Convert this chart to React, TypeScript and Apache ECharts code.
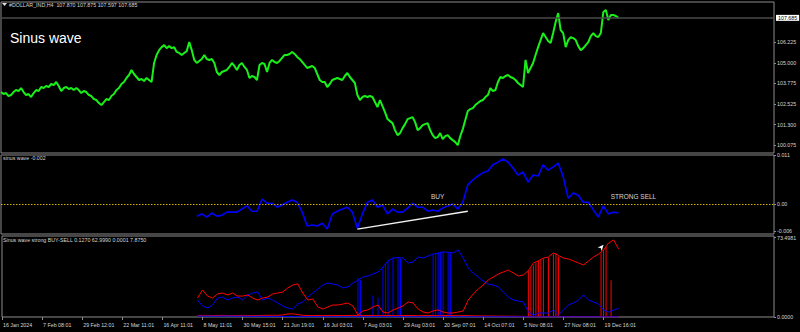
import React, { useEffect, useRef } from 'react';
import * as echarts from 'echarts';

// ---- data ----
const SLOTS = 155; // coarse time slots across the window (8 per date label)
const FINE = 2; // fine slots per coarse slot (price and spikes)
const dateLabels = [
  '16 Jan 2024', '7 Feb 08:01', '29 Feb 12:01', '22 Mar 11:01', '16 Apr 11:01',
  '8 May 11:01', '30 May 15:01', '21 Jun 19:01', '16 Jul 03:01', '7 Aug 03:01',
  '29 Aug 03:01', '20 Sep 07:01', '14 Oct 07:01', '5 Nov 08:01', '27 Nov 08:01',
  '19 Dec 16:01',
];
const priceTicks = [100.075, 101.3, 102.525, 103.775, 105.0, 106.225];
const sinusTicks = [-0.006, 0, 0.011];
const strengthTicks = [0, 73.4981];
const lastPrice = 107.685;

// price, one value per fine slot
const priceClose = [
  103.25, 103.13, 103.19, 103.01, 103.07, 103.25, 103.37, 103.31, 103.49, 103.25,
  103.07, 103.13, 102.95, 103.19, 103.37, 103.31, 103.55, 103.49, 103.61, 103.55,
  103.73, 103.67, 103.85, 103.61, 103.31, 103.49, 103.55, 103.43, 103.49, 103.37,
  103.49, 103.37, 103.19, 103.31, 103.25, 103.07, 103.01, 102.83, 102.77, 102.59,
  102.47, 102.65, 102.83, 102.77, 103.01, 103.13, 103.37, 103.49, 103.73, 103.85,
  104.09, 104.27, 104.57, 104.33, 104.15, 103.97, 104.03, 103.91, 104.09, 103.97,
  103.85, 104.99, 105.47, 105.76, 105.94, 106.06, 105.88, 106.0, 105.88, 105.94,
  105.65, 105.59, 105.47, 105.59, 105.7, 106.24, 105.76, 105.17, 104.99, 105.11,
  105.23, 105.47, 105.23, 105.17, 105.23, 104.99, 104.45, 104.27, 104.45, 104.51,
  104.57, 104.75, 104.99, 104.81, 104.57, 104.87, 104.99, 104.75, 104.57, 104.09,
  104.21, 104.15, 103.97, 104.87, 104.99, 104.93, 104.45, 104.99, 105.17, 105.05,
  104.99, 105.11, 105.29, 105.47, 105.47, 105.53, 105.65, 105.53, 105.35, 105.23,
  105.05, 104.87, 104.69, 104.75, 104.81, 104.69, 104.33, 103.97, 103.85, 103.85,
  103.55, 103.73, 103.97, 104.03, 104.09, 104.03, 103.97, 104.21, 104.39, 104.15,
  103.97, 103.79, 103.07, 102.77, 102.95, 103.01, 102.95, 103.01, 102.95, 102.65,
  102.35, 102.77, 102.41, 102.05, 101.63, 101.51, 101.39, 100.97, 100.67, 100.79,
  101.09, 101.33, 101.63, 101.69, 101.75, 101.45, 100.97, 101.09, 101.27, 101.33,
  101.39, 100.97, 100.67, 100.49, 100.55, 100.79, 100.43, 100.61, 100.67, 100.49,
  100.37, 100.25, 100.07, 100.61, 101.03, 101.57, 102.11, 102.23, 102.29, 102.47,
  102.59, 102.71, 102.77, 102.95, 103.07, 103.49, 103.31, 103.37, 103.85, 104.15,
  104.09, 104.21, 104.27, 104.15, 104.09, 103.97, 103.79, 103.67, 103.55, 105.17,
  104.39, 104.69, 104.99, 105.47, 105.94, 106.36, 106.78, 106.54, 106.3, 106.18,
  106.78, 107.44, 107.98, 106.96, 106.78, 105.94, 106.36, 106.54, 106.48, 106.36,
  106.0, 105.76, 105.88, 106.06, 106.24, 106.6, 106.78, 106.6, 106.54, 106.78,
  108.04, 108.16, 107.56, 107.86, 107.86, 107.8, 107.69,
];

const indicatorStart = 39; // first coarse slot of the indicator panes

const sinusWave = [
  -0.0027, -0.0022, -0.0029, -0.002, -0.0027, -0.0025, -0.0018, -0.0018, -0.0018, -0.0011,
  -0.0004, -0.0016, -0.0016, 0.0011, 0.0002, 0.0002, -0.0007, -0.0002, 0.0004, 0.0009,
  0.0004, -0.0018, -0.0049, -0.0047, -0.0049, -0.0043, -0.0056, -0.0022, -0.0016, -0.0011,
  -0.0007, -0.0018, -0.0054, -0.0022, 0.0004, 0.0009, -0.0007, -0.0002, -0.0022, -0.0011,
  -0.0018, -0.0018, -0.0009, 0.0002, -0.0007, -0.0007, -0.0016, -0.0013, -0.0016, -0.0009,
  -0.0004, 0.0, -0.0011, 0.0004, 0.0043, 0.0054, 0.0063, 0.007, 0.0074, 0.0088,
  0.0094, 0.0101, 0.0094, 0.0081, 0.0065, 0.0072, 0.0049, 0.0065, 0.0063, 0.0088,
  0.0076, 0.0083, 0.0092, 0.0061, 0.0013, 0.0025, 0.002, 0.0004, 0.0004, -0.0013,
  -0.0029, -0.0004, -0.0022, -0.0018, -0.002,
];

const redStrength = [
  17.6, 25.0, 19.4, 17.6, 21.3, 22.2, 20.4, 22.2, 19.4, 19.4,
  20.4, 17.6, 15.7, 17.6, 18.5, 21.3, 22.2, 23.2, 26.9, 29.6,
  30.6, 22.2, 15.7, 16.7, 9.3, 7.4, 9.3, 11.1, 11.1, 12.0,
  13.0, 10.2, 1.9, 5.6, 6.5, 9.3, 11.1, 4.6, 3.7, 6.5,
  8.3, 10.2, 13.9, 13.0, 7.4, 4.6, 3.7, 5.6, 6.5, 4.6,
  3.7, 3.7, 4.6, 5.6, 15.7, 21.3, 25.9, 29.6, 34.3, 37.0,
  39.8, 41.7, 43.5, 40.7, 38.0, 38.9, 43.0, 50.0, 52.0, 54.6,
  55.6, 59.3, 57.0, 54.6, 53.7, 51.9, 50.0, 48.2, 51.9, 55.6,
  58.3, 62.0, 68.5, 71.3, 63.0,
];

const blueStrength = [
  15.7, 10.2, 8.3, 11.1, 17.6, 18.5, 15.7, 17.6, 18.5, 15.7,
  20.4, 22.2, 23.2, 15.7, 17.6, 15.7, 13.0, 10.2, 8.3, 7.4,
  12.0, 13.9, 18.5, 22.2, 25.9, 29.6, 31.5, 30.6, 29.6, 26.9,
  27.8, 31.5, 34.0, 37.0, 38.0, 39.8, 41.7, 46.3, 52.0, 54.6,
  55.0, 54.6, 50.0, 50.9, 55.6, 54.6, 56.5, 58.3, 59.0, 60.2,
  60.0, 59.3, 62.0, 54.6, 45.4, 40.7, 37.0, 33.3, 30.6, 29.6,
  27.8, 23.2, 18.5, 15.7, 14.8, 13.9, 4.6, 1.9, 3.7, 3.7,
  3.7, 6.5, 1.9, 6.5, 11.1, 13.0, 15.7, 20.4, 15.7, 13.9,
  12.0, 6.5, 4.6, 6.5, 7.9,
];

const redBase = [
  1.5, 1.4, 1.5, 1.3, 1.4, 1.5, 1.4, 1.3, 1.4, 1.5,
  1.4, 1.3, 1.4, 1.5, 1.6, 1.5, 1.6, 1.9, 2.8, 3.0,
  2.2, 1.6, 1.4, 1.3, 1.4, 1.3, 1.4, 1.5, 1.4, 1.3,
  1.4, 1.5, 1.2, 1.3, 1.4, 1.3, 1.2, 1.3, 1.4, 1.3,
  1.2, 1.3, 1.4, 1.3, 1.2, 1.3, 1.4, 1.3, 1.2, 1.3,
  1.4, 1.3, 1.2, 1.3, 1.2, 1.1, 1.0, 1.0, 0.9, 0.9,
  0.8, 0.8, 0.7, 0.7, 0.6, 0.6, 0.4, 0.3, 0.3, 0.3,
  0.3, 0.3, 0.3, 0.3, 0.3, 0.3, 0.3, 0.3, 0.3, 0.3,
  0.3, 0.3, 0.3, 0.3, 0.3,
];

const blueBase = [
  0.9, 0.8, 0.9, 0.8, 0.7, 0.8, 0.9, 0.8, 0.7, 0.8,
  0.7, 0.6, 0.7, 0.6, 0.5, 0.6, 0.5, 0.5, 0.4, 0.4,
  0.4, 0.3, 0.3, 0.3, 0.3, 0.3, 0.2, 0.2, 0.2, 0.2,
  0.2, 0.2, 0.2, 0.2, 0.2, 0.2, 0.2, 0.2, 0.2, 0.2,
  0.2, 0.2, 0.2, 0.2, 0.2, 0.2, 0.2, 0.2, 0.2, 0.2,
  0.2, 0.2, 0.2, 0.2, 0.2, 0.2, 0.2, 0.2, 0.2, 0.2,
  0.2, 0.2, 0.2, 0.2, 0.2, 0.2, 0.13, 0.13, 0.13, 0.13,
  0.13, 0.13, 0.13, 0.13, 0.13, 0.13, 0.13, 0.13, 0.13, 0.13,
  0.13, 0.13, 0.13, 0.13, 0.127,
];

// spikes (fine slots) where a strength line drops to the floor and back
const redSpikeSlots = [210, 211, 212, 213, 214, 215, 216, 218, 220, 221, 222, 239, 240, 241, 243];
const redSpikeValues = [43, 45, 48, 50, 52, 53, 54, 55, 58, 59, 56, 59, 62, 65, 34];
const blueSpikeSlots = [142, 143, 148, 150, 152, 153, 154, 156, 158, 159, 172, 173, 174, 175, 176, 178, 179];
const blueSpikeValues = [36, 34, 20, 18, 46, 50, 52, 55, 55, 54, 58, 59, 60, 60, 61, 60, 59];

const trendLine = [
  [71, -0.0056],
  [93, -0.0016],
];
const signals = [
  { label: 'BUY', slot: 87, value: 0.0016 },
  { label: 'STRONG SELL', slot: 126, value: 0.0016 },
];
const arrowMark = { slot: 120, value: 67 };

const priceTitle = '#DOLLAR_IND,H4  107.870 107.875 107.597 107.685';
const sinusTitle = 'sinus wave -0.002';
const strengthTitle = 'Sinus wave strong BUY-SELL 0.1270 62.9990 0.0001 7.8750';

export default function App() {
  const ref = useRef<HTMLDivElement>(null);

  useEffect(() => {
    if (!ref.current) return;
    const chart = echarts.init(ref.current, null, { renderer: 'svg' });
    const cats = Array.from({ length: SLOTS }, (_, i) => String(i));
    const fineCats = Array.from({ length: (SLOTS - 1) * FINE + 1 }, (_, i) => String(i));
    const pad = (arr: number[]) => [...new Array(indicatorStart).fill(null), ...arr];
    const labelColor = '#d6d6d6';
    const borderColor = '#8c8c8c';
    const font = '"Liberation Sans", Arial, sans-serif';
    const small = 5.3;
    const isDateSlot = (i: number) => i % 8 === 0 && i / 8 < dateLabels.length;

    const grids = [
      { left: 1, right: 26, top: 2, height: 151 },
      { left: 1, right: 26, top: 155, height: 79 },
      { left: 1, right: 26, top: 236, height: 81 },
    ].map((g) => ({ ...g, show: true, borderColor, borderWidth: 1, backgroundColor: 'transparent' }));

    const hiddenX = (gi: number, data: string[]) => ({
      type: 'category', gridIndex: gi, data, boundaryGap: false,
      axisLine: { show: false }, axisTick: { show: false }, axisLabel: { show: false }, splitLine: { show: false },
    });

    const yAxis = (gi: number, min: number, max: number, ticks: number[], fmt: (v: number) => string) => ({
      type: 'value', gridIndex: gi, position: 'right', min, max,
      splitLine: { show: false }, axisLine: { show: false },
      axisTick: { show: true, customValues: ticks, length: 2, lineStyle: { color: borderColor } },
      axisLabel: {
        show: true, customValues: ticks, formatter: fmt, color: labelColor,
        fontSize: small, fontFamily: font, margin: 3,
      },
    });

    chart.setOption({
      animation: false,
      backgroundColor: '#000000',
      grid: grids,
      xAxis: [
        hiddenX(0, cats),
        hiddenX(1, cats),
        {
          type: 'category', gridIndex: 2, data: cats, boundaryGap: false,
          axisLine: { show: false }, splitLine: { show: false },
          axisTick: { show: true, interval: (i: number) => isDateSlot(i), length: 3, lineStyle: { color: borderColor } },
          axisLabel: {
            show: true, interval: (i: number) => isDateSlot(i),
            formatter: (_v: string, i: number) => dateLabels[i / 8] ?? '',
            align: 'left', color: labelColor, fontSize: small, fontFamily: font, margin: 5, padding: [0, 0, 0, 1],
          },
        },
        hiddenX(0, fineCats),
        hiddenX(2, fineCats),
      ],
      yAxis: [
        yAxis(0, 99.6, 108.64, priceTicks, (v) => v.toFixed(3)),
        yAxis(1, -0.0067, 0.011, sinusTicks, (v) => (v === 0 ? '0.00' : v.toFixed(3))),
        yAxis(2, 0, 75, strengthTicks, (v) => v.toFixed(4)),
      ],
      series: [
        {
          type: 'line', xAxisIndex: 3, yAxisIndex: 0, data: priceClose, showSymbol: false,
          lineStyle: { color: '#19f019', width: 2 },
          markLine: {
            silent: true, symbol: ['none', 'none'],
            data: [{ yAxis: lastPrice }],
            lineStyle: { color: '#4a4a4a', type: 'solid', width: 1.5 },
            label: {
              show: true, position: 'end', distance: 2, formatter: lastPrice.toFixed(3),
              backgroundColor: '#ffffff', color: '#000000', fontSize: small, fontFamily: font, padding: [1, 2, 0, 2],
            },
          },
        },
        {
          type: 'line', xAxisIndex: 1, yAxisIndex: 1, data: pad(sinusWave), showSymbol: false,
          lineStyle: { color: '#0000ff', width: 1.6 },
          markLine: {
            silent: true, symbol: ['none', 'none'],
            label: { show: false },
            lineStyle: { color: '#d2b400', type: [1.5, 1.5], width: 1, opacity: 1 },
            data: [{ yAxis: 0 }],
          },
          markPoint: {
            silent: true, symbol: 'rect', symbolSize: 1, itemStyle: { color: 'transparent' },
            label: { show: true, position: 'inside', color: labelColor, fontSize: 6.5, fontFamily: font, formatter: (p: any) => p.name },
            data: signals.map((s) => ({ name: s.label, coord: [s.slot, s.value] })),
          },
        },
        {
          type: 'line', xAxisIndex: 1, yAxisIndex: 1, data: trendLine, showSymbol: false,
          lineStyle: { color: '#f2f2f2', width: 1.4 },
        },
        {
          type: 'line', xAxisIndex: 2, yAxisIndex: 2, data: pad(redBase), showSymbol: false,
          lineStyle: { color: '#ff0000', width: 1 },
        },
        {
          type: 'line', xAxisIndex: 2, yAxisIndex: 2, data: pad(blueBase), showSymbol: false,
          lineStyle: { color: '#0000ff', width: 1 },
        },
        {
          type: 'bar', xAxisIndex: 4, yAxisIndex: 2, barWidth: 1,
          data: blueSpikeSlots.map((s, k) => [s, blueSpikeValues[k]]),
          itemStyle: { color: '#0000ff' },
        },
        {
          type: 'bar', xAxisIndex: 4, yAxisIndex: 2, barWidth: 1, barGap: '-100%',
          data: redSpikeSlots.map((s, k) => [s, redSpikeValues[k]]),
          itemStyle: { color: '#ff0000' },
        },
        {
          type: 'line', xAxisIndex: 2, yAxisIndex: 2, data: pad(blueStrength), showSymbol: false,
          lineStyle: { color: '#0000ff', width: 1 },
        },
        {
          type: 'line', xAxisIndex: 2, yAxisIndex: 2, data: pad(redStrength), showSymbol: false,
          lineStyle: { color: '#ff0000', width: 1 },
          markPoint: {
            silent: true, symbol: 'arrow', symbolSize: [4, 6], symbolRotate: -40,
            itemStyle: { color: '#ffffff' }, label: { show: false },
            data: [{ coord: [arrowMark.slot, arrowMark.value] }],
          },
        },
      ],
      graphic: [
        { type: 'polygon', shape: { points: [[2, 3], [7, 3], [4.5, 6]] }, style: { fill: '#e0e0e0' } },
        { type: 'text', x: 9, y: 5, style: { text: priceTitle, fill: labelColor, fontSize: small, fontFamily: font, verticalAlign: 'middle' } },
        { type: 'text', x: 10, y: 38, style: { text: 'Sinus wave', fill: '#ffffff', fontSize: 14, fontFamily: font, verticalAlign: 'middle' } },
        { type: 'text', x: 3, y: 158, style: { text: sinusTitle, fill: labelColor, fontSize: small, fontFamily: font, verticalAlign: 'middle' } },
        { type: 'text', x: 3, y: 240, style: { text: strengthTitle, fill: labelColor, fontSize: small, fontFamily: font, verticalAlign: 'middle' } },
      ],
    });

    return () => chart.dispose();
  }, []);

  return <div ref={ref} style={{ position: 'fixed', left: 0, top: 0, width: 800, height: 332, background: '#000' }} />;
}
